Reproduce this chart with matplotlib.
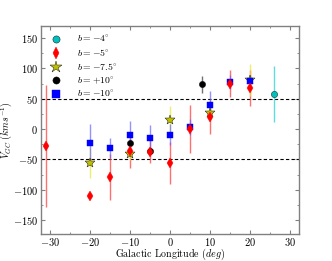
import numpy as np
import matplotlib
matplotlib.use("Agg")
import matplotlib.pyplot as plt
from matplotlib.ticker import MultipleLocator

plt.rcParams['font.family'] = ['cmr10', 'DejaVu Serif']
plt.rcParams['mathtext.fontset'] = 'cm'
plt.rcParams['axes.formatter.use_mathtext'] = True

# b = -4 deg
l_m4 = [26]
v_m4 = [58]
e_m4 = [46]

# b = -5 deg
l_m5 = [-31, -20, -15, -10, -5, 0, 5, 10, 15, 20]
v_m5 = [-28, -110, -79, -36, -37, -56, 0, 20, 75, 68]
e_m5 = [100, 4, 38, 28, 19, 34, 40, 28, 22, 30]

# b = -7.5 deg
l_m75 = [-20, -10, 0, 10, 20]
v_m75 = [-56, -41, 15, 27, 81]
e_m75 = [25, 10, 23, 12, 26]

# b = +10 deg
l_p10 = [-10, -5, 8]
v_p10 = [-23, -36, 74]
e_p10 = [6, 6, 14]

# b = -10 deg
l_m10 = [-20, -15, -10, -5, 0, 5, 10, 15, 20]
v_m10 = [-23, -31, -10, -14, -9, 3, 40, 78, 80]
e_m10 = [32, 17, 23, 20, 17, 13, 23, 12, 10]

fig = plt.figure(figsize=(3.32, 2.61), dpi=100)
ax = fig.add_axes([0.1235, 0.1034, 0.777, 0.797])

ax.axhline(50, color='k', ls='--', lw=0.8, dashes=(3, 2))
ax.axhline(-50, color='k', ls='--', lw=0.8, dashes=(3, 2))

ms = 4.5
series = [
    (l_m4, v_m4, e_m4, 'o', 'c', 'k', (0.3, 0.85, 0.85, 0.9), ms, r'$b=-4^{\circ}$'),
    (l_m5, v_m5, e_m5, 'd', 'r', 'r', (1, 0.25, 0.25, 0.75), ms + 0.5, r'$b=-5^{\circ}$'),
    (l_m75, v_m75, e_m75, '*', 'y', 'k', (0.9, 0.9, 0.2, 0.7), ms + 3, r'$b=-7.5^{\circ}$'),
    (l_p10, v_p10, e_p10, 'o', 'k', 'k', (0.3, 0.3, 0.3, 0.8), ms, r'$b=+10^{\circ}$'),
    (l_m10, v_m10, e_m10, 's', 'b', 'b', (0.4, 0.4, 1, 0.7), ms, r'$b=-10^{\circ}$'),
]
for l, v, e, m, c, mec, ec, size, lab in series:
    ax.errorbar(l, v, yerr=e, fmt='none', ecolor=ec, elinewidth=1, zorder=2)
for l, v, e, m, c, mec, ec, size, lab in series:
    z = 4 if c == 'r' else 3
    ax.plot(l, v, ls='none', marker=m, color=c, ms=size, mec=mec, mew=0.3,
            label=lab, zorder=z)

ax.set_xlim(-32.2, 32.2)
ax.set_ylim(-173, 170)
ax.xaxis.set_major_locator(MultipleLocator(10))
ax.xaxis.set_minor_locator(MultipleLocator(5))
ax.yaxis.set_major_locator(MultipleLocator(50))
ax.yaxis.set_minor_locator(MultipleLocator(25))
ax.tick_params(which='both', direction='in', top=True, right=True, labelsize=7.5,
               color='0.5')
ax.tick_params(axis='x', pad=1.5)
ax.tick_params(axis='y', pad=2)
ax.tick_params(which='major', length=3)
ax.tick_params(which='minor', length=1.5)
for s in ax.spines.values():
    s.set_color('0.5')
    s.set_linewidth(1)

ax.set_xlabel(r'Galactic Longitude ($deg$)', fontsize=7.2, labelpad=-1)
ax.set_ylabel(r'$V_{GC}\ (kms^{-1})$', fontsize=7.2, labelpad=-1)

leg = ax.legend(loc='upper left', frameon=False, fontsize=7, numpoints=1,
                markerscale=1.15, handlelength=1.5, handletextpad=1.4,
                labelspacing=0.3, borderaxespad=0.2, borderpad=0.6)

fig.savefig('out.png', dpi=100)
